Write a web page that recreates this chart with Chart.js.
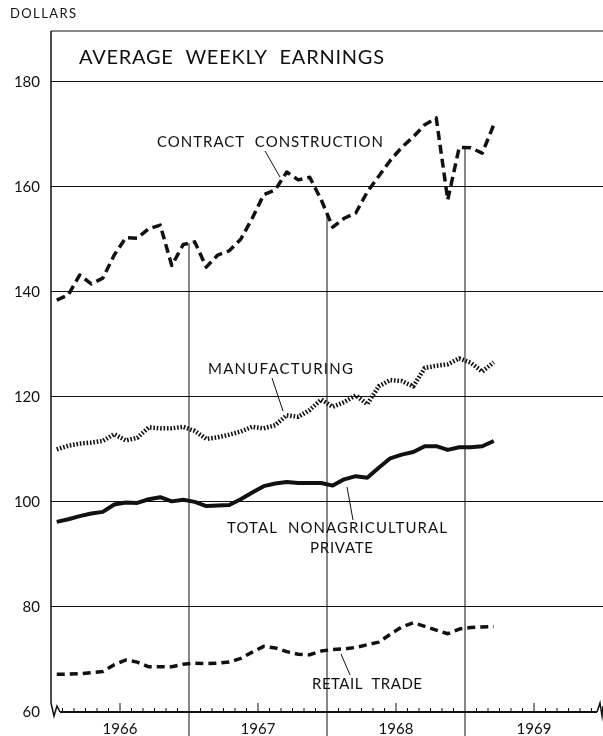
<!DOCTYPE html>
<html>
<head>
<meta charset="utf-8">
<script src="https://cdn.jsdelivr.net/npm/chart.js@4.4.1/dist/chart.umd.min.js"></script>
<style>
  html, body { margin: 0; padding: 0; background: #fff; }
  #wrap { width: 603px; height: 736px; }
</style>
</head>
<body>
<div id="wrap"><canvas id="chart" width="603" height="736"></canvas></div>
<script>
// Monthly values, Jan 1966 .. Mar 1969
const years = ['1966', '1967', '1968', '1969'];
const yTicks = [60, 80, 100, 120, 140, 160, 180];

const construction = [
    138.4, 139.4, 143.2, 141.5, 142.6, 147.0, 150.3, 150.2, 152.0, 152.7, 145.0, 149.0,
    149.5, 144.7, 147.0, 147.8, 150.0, 154.0, 158.5, 159.4, 162.8, 161.3, 161.8, 157.5,
    152.3, 154.0, 155.0, 159.0, 162.0, 165.0, 167.5, 169.5, 171.8, 173.1, 157.5, 167.5,
    167.4, 166.4, 171.8
];
const manufacturing = [
    110.0, 110.7, 111.1, 111.3, 111.6, 112.9, 111.7, 112.2, 114.2, 114.0, 114.0, 114.3,
    113.5, 112.0, 112.3, 112.8, 113.4, 114.3, 114.0, 114.6, 116.5, 116.2, 117.5, 119.5,
    118.1, 119.0, 120.3, 118.6, 122.0, 123.2, 123.0, 122.0, 125.5, 125.9, 126.2, 127.3,
    126.5, 124.8, 126.6
];
const totalPrivate = [
    96.2, 96.7, 97.3, 97.8, 98.1, 99.5, 99.9, 99.8, 100.5, 100.9, 100.1, 100.4,
    100.0, 99.2, 99.3, 99.4, 100.5, 101.8, 103.0, 103.5, 103.8, 103.6, 103.6, 103.6,
    103.1, 104.3, 104.9, 104.6, 106.5, 108.3, 109.0, 109.5, 110.6, 110.6, 109.9, 110.4,
    110.4, 110.6, 111.6
];
const retail = [
    67.2, 67.2, 67.3, 67.5, 67.7, 69.0, 69.9, 69.5, 68.6, 68.6, 68.6, 69.1,
    69.3, 69.2, 69.3, 69.5, 70.2, 71.4, 72.5, 72.2, 71.5, 71.0, 70.9, 71.6,
    71.9, 72.0, 72.3, 72.8, 73.3, 74.8, 76.2, 77.0, 76.3, 75.6, 74.9, 75.8,
    76.1, 76.2, 76.3
];

const FONT = 'Lato, "Open Sans", sans-serif';
const INK = '#111';

// month index -> point in the middle of the month
const toPoints = arr => arr.map((v, i) => ({ x: i + 0.5, y: v }));

// draw text stretched/squeezed to a target width with letter spacing
function fitText(ctx, text, x, y, width, size) {
    ctx.font = size + 'px ' + FONT;
    ctx.letterSpacing = '0px';
    const w = ctx.measureText(text).width;
    const ls = (width - w) / Math.max(text.length - 1, 1);
    ctx.letterSpacing = ls.toFixed(2) + 'px';
    ctx.textAlign = 'left';
    ctx.textBaseline = 'middle';
    ctx.fillText(text, x, y);
    ctx.letterSpacing = '0px';
}

function line(ctx, pts, width) {
    ctx.beginPath();
    ctx.moveTo(pts[0][0], pts[0][1]);
    pts.slice(1).forEach(p => ctx.lineTo(p[0], p[1]));
    ctx.lineWidth = width;
    ctx.stroke();
}

const framePlugin = {
    id: 'frame',
    beforeDatasetsDraw(chart) {
        const { ctx, chartArea, scales } = chart;
        const x = scales.x, y = scales.y;
        const base = chartArea.bottom;
        ctx.save();
        ctx.strokeStyle = INK;
        ctx.setLineDash([]);

        // top border
        line(ctx, [[chartArea.left, chartArea.top], [chartArea.right, chartArea.top]], 1);

        // year boundaries: from the construction curve down past the axis
        [12, 24, 36].forEach(m => {
            const v = (construction[m - 1] + construction[m]) / 2;
            const px = x.getPixelForValue(m);
            line(ctx, [[px, y.getPixelForValue(v)], [px, chart.height]], 1);
        });

        // month ticks above the baseline
        for (let m = 1; m < 48; m++) {
            if (m % 12 === 0) continue;
            const px = x.getPixelForValue(m);
            const h = (m % 12 === 6) ? 9 : 4;
            line(ctx, [[px, base], [px, base - h]], 1);
        }

        // left axis with break
        const l = chartArea.left;
        line(ctx, [[l, chartArea.top], [l, base - 9]], 1.5);
        line(ctx, [[l, base - 9], [l + 3, base + 4], [l + 6, base - 6], [l + 9, base]], 1.5);
        // baseline
        line(ctx, [[l + 9, base], [chartArea.right - 6, base]], 2);
        // right break
        const r = chartArea.right;
        line(ctx, [[r - 6, base], [r - 3, base - 9], [r - 1, base + 4], [r, base - 6]], 1.5);
        ctx.restore();
    },
    afterDraw(chart) {
        const { ctx } = chart;
        ctx.save();
        ctx.fillStyle = INK;
        ctx.strokeStyle = INK;
        ctx.setLineDash([]);

        fitText(ctx, 'DOLLARS', 10, 14, 66, 13);
        fitText(ctx, 'AVERAGE  WEEKLY  EARNINGS', 79, 58, 305, 20);

        fitText(ctx, 'CONTRACT  CONSTRUCTION', 157, 142, 226, 15);
        line(ctx, [[265, 151], [280, 177]], 1);

        fitText(ctx, 'MANUFACTURING', 208, 369, 145, 15);
        line(ctx, [[272, 378], [283, 411]], 1);

        fitText(ctx, 'TOTAL  NONAGRICULTURAL', 227, 528, 220, 15);
        fitText(ctx, 'PRIVATE', 310, 548, 63, 15);
        line(ctx, [[347, 487], [353, 520]], 1);

        fitText(ctx, 'RETAIL  TRADE', 312, 684, 110, 15);
        line(ctx, [[341, 654], [350, 675]], 1);
        ctx.restore();
    }
};

new Chart(document.getElementById('chart'), {
    type: 'line',
    data: {
        datasets: [
            {
                label: 'Contract construction',
                data: toPoints(construction),
                borderColor: INK,
                borderWidth: 3.5,
                borderDash: [9, 5],
                borderCapStyle: 'butt'
            },
            {
                label: 'Manufacturing',
                data: toPoints(manufacturing),
                borderColor: INK,
                borderWidth: 4.5,
                borderDash: [1.6, 1.8],
                borderCapStyle: 'butt'
            },
            {
                label: 'Total nonagricultural private',
                data: toPoints(totalPrivate),
                borderColor: INK,
                borderWidth: 4
            },
            {
                label: 'Retail trade',
                data: toPoints(retail),
                borderColor: INK,
                borderWidth: 3.5,
                borderDash: [8, 5],
                borderCapStyle: 'butt'
            }
        ]
    },
    options: {
        responsive: false,
        animation: false,
        devicePixelRatio: 1,
        elements: {
            point: { radius: 0 },
            line: { tension: 0, borderJoinStyle: 'round' }
        },
        layout: { padding: { top: 31, right: 0, bottom: 0, left: 0 } },
        plugins: {
            legend: { display: false },
            tooltip: { enabled: false }
        },
        scales: {
            x: {
                type: 'linear',
                min: 0,
                max: 48,
                grid: { display: false, drawTicks: false },
                border: { display: false },
                afterBuildTicks: s => { s.ticks = years.map((_, i) => ({ value: i * 12 + 6 })); },
                afterFit: s => { s.height = 24; },
                ticks: {
                    autoSkip: false,
                    maxRotation: 0,
                    padding: 8,
                    color: INK,
                    font: { family: FONT, size: 15 },
                    callback: v => years[Math.round((v - 6) / 12)]
                }
            },
            y: {
                min: 60,
                max: 189.65,
                afterBuildTicks: s => { s.ticks = yTicks.map(v => ({ value: v })); },
                afterFit: s => { s.width = 51; },
                grid: {
                    drawTicks: false,
                    lineWidth: 1,
                    color: c => (c.tick && c.tick.value === 60) ? 'rgba(0,0,0,0)' : INK
                },
                border: { display: false },
                ticks: {
                    padding: 11,
                    color: INK,
                    font: { family: FONT, size: 15 }
                }
            }
        }
    },
    plugins: [framePlugin]
});
</script>
</body>
</html>
